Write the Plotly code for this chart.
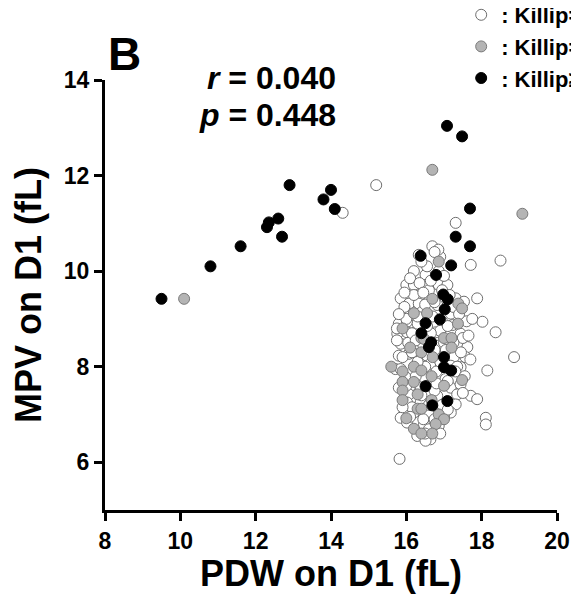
import plotly.graph_objects as go

# ---- data (PDW, MPV on D1) ----
k1_pdw = [14.31, 15.2, 16.69, 17.31, 18.5, 16.33, 17.71, 16.20, 16.86, 16.51, 16.0, 16.20, 16.47, 16.86, 17.09,
          15.85, 16.38, 17.31, 17.88, 16.07, 16.33, 16.82, 17.53, 15.93, 16.42, 17.18, 18.02, 15.80, 16.02, 16.95,
          17.22, 18.37, 15.76, 16.02, 16.24, 16.78, 17.44, 15.85, 16.33, 16.86, 17.44, 17.62, 15.80, 16.07, 16.55,
          16.82, 17.26, 17.57, 18.86, 15.71, 16.64, 17.18, 17.44, 18.15, 15.98, 16.47, 17.04, 17.26, 15.80, 16.11,
          16.38, 17.18, 17.44, 16.07, 16.82, 17.35, 17.71, 17.88, 16.02, 16.38, 17.31, 16.20, 15.93, 16.60, 17.18,
          15.85, 18.11, 18.11, 16.47, 16.02, 16.29, 16.60, 16.86, 16.64, 15.82, 16.51,
          16.0, 16.3, 16.5, 16.6, 16.3, 16.9, 16.5, 16.3, 16.8, 16.05, 15.9, 16.4, 16.6, 17.0, 16.2, 16.7, 17.1,
          16.15, 16.45, 16.65, 16.9, 17.1, 16.25, 16.55, 16.75, 16.95, 16.15, 16.45, 16.75, 17.0, 17.35, 17.5,
          17.6, 17.25, 16.75, 16.55, 16.9, 16.4, 17.0, 15.95,
          15.75, 15.75, 15.8, 15.85, 15.9, 16.0, 16.1, 16.15, 16.25, 16.35, 16.45, 16.55, 16.65, 16.75, 16.8,
          16.95, 17.05, 17.15, 17.25, 17.3, 17.4, 17.5, 17.55, 17.65, 17.7, 17.75, 16.9, 16.5, 16.1, 17.1,
          17.45, 15.95, 16.85, 16.75]
k1_mpv = [11.22, 11.8, 10.52, 11.01, 10.22, 10.34, 10.13, 10.0, 10.0, 9.92, 9.71, 9.71, 9.71, 9.71, 9.71,
          9.43, 9.51, 9.43, 9.43, 9.32, 9.32, 9.29, 9.36, 9.11, 9.15, 9.11, 8.94, 8.90, 8.94, 8.94,
          8.87, 8.72, 8.69, 8.72, 8.72, 8.72, 8.69, 8.48, 8.48, 8.44, 8.44, 8.41, 8.23, 8.27, 8.23,
          8.23, 8.20, 8.20, 8.20, 7.95, 8.06, 8.02, 7.99, 7.92, 7.78, 7.78, 7.74, 7.74, 7.56, 7.60,
          7.56, 7.56, 7.63, 7.42, 7.39, 7.42, 7.39, 7.32, 7.25, 7.25, 7.21, 7.04, 7.00, 7.00, 7.04,
          6.93, 6.93, 6.79, 6.79, 6.83, 6.55, 6.69, 6.76, 6.48, 6.07, 6.45,
          9.0, 8.9, 9.3, 9.6, 9.05, 8.75, 8.0, 8.1, 7.9, 8.5, 8.2, 7.4, 7.2, 8.5, 9.5, 9.05, 8.85,
          8.3, 8.45, 8.7, 8.1, 7.7, 7.8, 7.6, 7.5, 7.2, 7.15, 6.9, 6.9, 6.95, 8.0, 8.6,
          8.95, 9.25, 9.35, 10.1, 10.3, 10.2, 9.9, 9.25,
          8.8, 8.55, 9.1, 7.95, 7.15, 7.6, 9.85, 8.7, 8.55, 9.75, 9.55, 8.85, 9.8, 8.35, 7.65,
          9.6, 8.35, 9.5, 8.5, 7.9, 9.1, 7.45, 7.8, 8.65, 8.15, 9.0, 6.6, 6.6, 6.95, 7.1,
          8.3, 9.55, 10.45, 10.4]

k2_pdw = [10.1, 16.69, 19.08, 16.86, 16.69, 16.2, 16.55, 17.38, 17.48, 15.9, 17.37, 16.4, 17.0, 17.2, 16.1,
          16.4, 16.7, 17.2, 15.6, 15.9, 16.2, 16.4, 16.67, 15.9, 16.2, 17.0, 17.48, 15.9, 15.9, 16.3,
          16.67, 16.3, 16.4, 16.86, 17.0, 16.78, 16.2, 16.4, 16.69, 16.0, 16.47]
k2_mpv = [9.42, 12.12, 11.2, 10.2, 9.42, 9.12, 9.12, 9.32, 9.22, 8.8, 8.9, 8.6, 8.6, 8.6, 8.4,
          8.3, 8.2, 8.4, 8.0, 7.9, 8.0, 7.92, 7.8, 7.68, 7.68, 7.6, 7.72, 7.5, 7.3, 7.42,
          7.3, 7.12, 7.12, 7.0, 6.9, 6.8, 6.7, 6.6, 6.6, 6.92, 8.58]

k3_pdw = [9.5, 10.8, 11.6, 12.3, 12.35, 12.6, 12.7, 12.9, 13.8, 14.0, 14.1, 17.08, 17.48, 17.69, 17.31, 17.69,
          16.38, 17.19, 16.79, 16.98, 17.10, 17.02, 16.89, 16.51, 16.40, 16.66, 16.60, 17.00, 17.00, 17.19,
          16.51, 17.09, 16.69]
k3_mpv = [9.42, 10.1, 10.52, 10.92, 11.02, 11.1, 10.72, 11.8, 11.5, 11.7, 11.3, 13.04, 12.82, 11.31, 10.72, 10.52,
          10.32, 10.12, 9.92, 9.51, 9.41, 9.20, 8.99, 8.91, 8.70, 8.51, 8.41, 8.20, 7.99, 7.92,
          7.59, 7.28, 7.19]

group_names = [": Killip=1", ": Killip=2", ": Killip\u22653"]
x_ticks = [8, 10, 12, 14, 16, 18, 20]
y_ticks = [6, 8, 10, 12, 14]

FONT = "Liberation Sans, Arial, Helvetica, sans-serif"

fig = go.Figure()
fig.add_trace(go.Scatter(x=k1_pdw, y=k1_mpv, mode="markers", name=group_names[0],
                         marker=dict(size=11, color="white", line=dict(color="#6e6e6e", width=1))))
fig.add_trace(go.Scatter(x=k2_pdw, y=k2_mpv, mode="markers", name=group_names[1],
                         marker=dict(size=11, color="#b4b4b4", line=dict(color="#7a7a7a", width=1))))
fig.add_trace(go.Scatter(x=k3_pdw, y=k3_mpv, mode="markers", name=group_names[2],
                         marker=dict(size=11, color="black", line=dict(color="black", width=1))))

axis_common = dict(showline=True, linewidth=3, linecolor="black", ticks="outside", ticklen=8,
                   tickwidth=3, tickcolor="black", showgrid=False, zeroline=False,
                   tickfont=dict(family=FONT, size=23, color="black", weight="bold"))

fig.update_xaxes(range=[8, 20], tickvals=x_ticks, ticktext=[str(v) for v in x_ticks],
                 title=dict(text="PDW on D1 (fL)", standoff=3,
                            font=dict(family=FONT, size=36, color="black", weight="bold")),
                 **axis_common)
fig.update_yaxes(range=[5, 14], tickvals=y_ticks, ticktext=[str(v) for v in y_ticks],
                 title=dict(text="MPV on D1 (fL)", standoff=14,
                            font=dict(family=FONT, size=36, color="black", weight="bold")),
                 **axis_common)

fig.add_annotation(text="<b>B</b>", xref="paper", yref="paper", x=0.0436, y=1.0595,
                   xanchor="center", yanchor="middle", showarrow=False,
                   font=dict(family=FONT, size=46, color="black"))
fig.add_annotation(text="<b><i>r</i> = 0.040</b>", xref="paper", yref="paper", x=0.5155, y=1.0053,
                   xanchor="right", yanchor="middle", showarrow=False,
                   font=dict(family=FONT, size=32, color="black"))
fig.add_annotation(text="<b><i>p</i> = 0.448</b>", xref="paper", yref="paper", x=0.5155, y=0.9195,
                   xanchor="right", yanchor="middle", showarrow=False,
                   font=dict(family=FONT, size=32, color="black"))

# page body has an 8px margin, so the figure is sized to the remaining window
fig.update_layout(
    width=571, height=586,
    margin=dict(l=97, r=22, t=72, b=84, autoexpand=False),
    paper_bgcolor="white", plot_bgcolor="white",
    showlegend=True,
    legend=dict(x=0.788, y=1.20, xanchor="left", yanchor="top", bgcolor="rgba(0,0,0,0)",
                font=dict(family=FONT, size=22, color="black", weight="bold"),
                itemwidth=30, borderwidth=0),
)

fig.write_html("out.html")
